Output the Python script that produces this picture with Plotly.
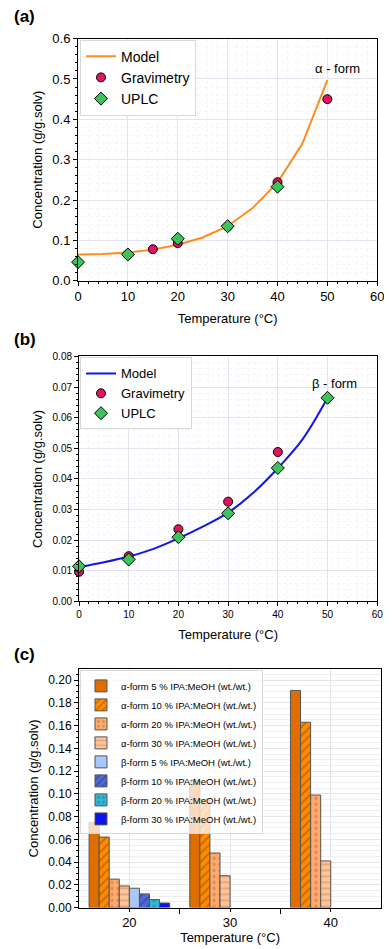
import plotly.graph_objects as go

# panel (a) alpha form
temp_model = [0, 5, 10, 15, 20, 25, 30, 35, 40, 45, 50]
alpha_model = [0.065, 0.066, 0.070, 0.077, 0.089, 0.107, 0.135, 0.180, 0.243, 0.340, 0.497]
alpha_grav_t = [10, 15, 20, 30, 40, 50]
alpha_grav = [0.066, 0.078, 0.093, 0.134, 0.244, 0.450]
alpha_uplc_t = [0, 10, 20, 30, 40]
alpha_uplc = [0.046, 0.065, 0.104, 0.135, 0.233]

# panel (b) beta form
beta_model = [0.0112, 0.0128, 0.0147, 0.0172, 0.0206, 0.0245, 0.0290, 0.0354, 0.0435, 0.0530, 0.0665]
beta_grav_t = [0, 10, 20, 30, 40]
beta_grav = [0.0097, 0.0148, 0.0236, 0.0326, 0.0488]
beta_uplc_t = [0, 10, 20, 30, 40, 50]
beta_uplc = [0.0115, 0.0137, 0.0210, 0.0288, 0.0436, 0.0665]

# panel (c) bars
bar_temps = [20, 30, 40]
bar_names = [
    "α-form 5 % IPA:MeOH (wt./wt.)",
    "α-form 10 % IPA:MeOH (wt./wt.)",
    "α-form 20 % IPA:MeOH (wt./wt.)",
    "α-form 30 % IPA:MeOH (wt./wt.)",
    "β-form 5 % IPA:MeOH (wt./wt.)",
    "β-form 10 % IPA:MeOH (wt./wt.)",
    "β-form 20 % IPA:MeOH (wt./wt.)",
    "β-form 30 % IPA:MeOH (wt./wt.)",
]
bar_values = [
    [0.075, 0.112, 0.191],
    [0.062, 0.095, 0.163],
    [0.025, 0.048, 0.099],
    [0.019, 0.028, 0.041],
    [0.017, None, None],
    [0.012, None, None],
    [0.007, None, None],
    [0.004, None, None],
]
bar_colors = ["#DF6D00", "#FF8A00", "#FFAA6E", "#FFC49A", "#A8C8F6", "#5068D2", "#34B6D6", "#0A14EE"]
bar_patterns = ["", "/", ".", "-", "", "/", ".", ""]
pattern_fg = ["#000", "#7A3C00", "#B86A30", "#C07A50", "#000", "#1A2A80", "#1A6A80", "#000"]

FONT = "Arial, Liberation Sans, sans-serif"
# the page body keeps its default 8px margin, so the figure starts at (8, 8)
OFF = 8
W, H = 392 - OFF, 949 - OFF


def px_x(p):
    return (p - OFF) / W


def px_y(p):
    return 1 - (p - OFF) / H


fig = go.Figure()

# ---- panel a
fig.add_trace(go.Scatter(x=temp_model, y=alpha_model, mode="lines", name="Model",
                         line=dict(color="#FF8C1A", width=2), legend="legend"))
fig.add_trace(go.Scatter(x=alpha_grav_t, y=alpha_grav, mode="markers", name="Gravimetry",
                         marker=dict(symbol="circle", size=9, color="#E3135E",
                                     line=dict(color="black", width=1)),
                         cliponaxis=False, legend="legend"))
fig.add_trace(go.Scatter(x=alpha_uplc_t, y=alpha_uplc, mode="markers", name="UPLC",
                         marker=dict(symbol="diamond", size=10, color="#3CC35A",
                                     line=dict(color="black", width=1)),
                         cliponaxis=False, legend="legend"))

# ---- panel b
fig.add_trace(go.Scatter(x=temp_model, y=beta_model, mode="lines", name="Model",
                         line=dict(color="#1414E6", width=2, shape="spline"),
                         xaxis="x2", yaxis="y2", legend="legend2"))
fig.add_trace(go.Scatter(x=beta_grav_t, y=beta_grav, mode="markers", name="Gravimetry",
                         marker=dict(symbol="circle", size=9, color="#E3135E",
                                     line=dict(color="black", width=1)),
                         cliponaxis=False, xaxis="x2", yaxis="y2", legend="legend2"))
fig.add_trace(go.Scatter(x=beta_uplc_t, y=beta_uplc, mode="markers", name="UPLC",
                         marker=dict(symbol="diamond", size=10, color="#3CC35A",
                                     line=dict(color="black", width=1)),
                         cliponaxis=False, xaxis="x2", yaxis="y2", legend="legend2"))

# ---- panel c
for name, vals, col, pat, fg in zip(bar_names, bar_values, bar_colors, bar_patterns, pattern_fg):
    fig.add_trace(go.Bar(
        x=bar_temps, y=vals, name=name,
        marker=dict(color=col, line=dict(color="#555555", width=1),
                    pattern=dict(shape=pat, fgcolor=fg, size=6, solidity=0.25)),
        xaxis="x3", yaxis="y3", legend="legend3"))

grid = "#E4E4F0"
minor_grid = "#F3F3F8"
title_font = dict(family=FONT, size=13, color="black")


def xax(domain, rng, dtick, anchor, fsize):
    return dict(domain=domain, range=rng, dtick=dtick, anchor=anchor,
                showline=True, linecolor="black", linewidth=1, mirror=True,
                ticks="outside", ticklen=4, tickcolor="black",
                showgrid=True, gridcolor=grid, zeroline=False,
                minor=dict(ticks="outside", ticklen=2, tickcolor="black",
                           showgrid=True, gridcolor=minor_grid, griddash="dot"),
                tickfont=dict(family=FONT, size=fsize, color="black"),
                title=dict(text="Temperature (°C)", font=title_font, standoff=10))


def yax(domain, rng, dtick, anchor, fmt, fsize):
    return dict(domain=domain, range=rng, dtick=dtick, anchor=anchor, tickformat=fmt,
                showline=True, linecolor="black", linewidth=1, mirror=True,
                ticks="outside", ticklen=4, tickcolor="black",
                showgrid=True, gridcolor=grid, zeroline=False,
                minor=dict(ticks="outside", ticklen=2, tickcolor="black",
                           showgrid=True, gridcolor=minor_grid, griddash="dot"),
                tickfont=dict(family=FONT, size=fsize, color="black"),
                title=dict(text="Concentration (g/g.solv)", font=title_font, standoff=6))


dom_x_a = [px_x(76), px_x(384)]
dom_y_a = [px_y(278), px_y(32)]
dom_x_b = [px_x(77), px_x(384)]
dom_y_b = [px_y(604), px_y(355)]
dom_x_c = [px_x(77), px_x(388)]
dom_y_c = [px_y(915), px_y(673)]

xa = xax(dom_x_a, [0, 60], 10, "y", 13)
ya = yax(dom_y_a, [0, 0.6], 0.1, "x", ".1f", 13)
xb = xax(dom_x_b, [0, 60], 10, "y2", 10)
yb = yax(dom_y_b, [0, 0.08], 0.01, "x2", ".2f", 10)

xc = dict(domain=dom_x_c, range=[15, 45], anchor="y3",
          tickmode="array", tickvals=bar_temps,
          showline=True, linecolor="black", linewidth=1, mirror=True,
          ticks="outside", ticklen=3, tickcolor="black",
          showgrid=True, gridcolor=grid, zeroline=False,
          minor=dict(tickmode="array", tickvals=[25, 35], ticks="outside", ticklen=5,
                     tickcolor="black", showgrid=False),
          tickfont=dict(family=FONT, size=13, color="black"),
          title=dict(text="Temperature (°C)", font=dict(family=FONT, size=13, color="black"),
                     standoff=0))
yc = dict(domain=dom_y_c, range=[0, 0.2095], dtick=0.02, anchor="x3", tickformat=".2f",
          showline=True, linecolor="black", linewidth=1, mirror=True,
          ticks="outside", ticklen=4, tickcolor="black",
          showgrid=True, gridcolor="#E6E6E6", zeroline=False,
          minor=dict(ticks="outside", ticklen=2, tickcolor="black",
                     showgrid=True, gridcolor="#EEEEEE"),
          tickfont=dict(family=FONT, size=12, color="black"),
          title=dict(text="Concentration (g/g.solv)", font=title_font, standoff=6))

legend_common = dict(bordercolor="#D8D8D8", borderwidth=1,
                     xanchor="left", yanchor="top", tracegroupgap=0)

fig.update_layout(
    width=W, height=H,
    margin=dict(l=0, r=0, t=0, b=0),
    paper_bgcolor="white", plot_bgcolor="white",
    font=dict(family=FONT, color="black"),
    xaxis=xa, yaxis=ya, xaxis2=xb, yaxis2=yb, xaxis3=xc, yaxis3=yc,
    barmode="group", bargap=0.2, bargroupgap=0,
    legend=dict(x=px_x(78), y=px_y(33), font=dict(family=FONT, size=14),
                bgcolor="white", **legend_common),
    legend2=dict(x=px_x(78), y=px_y(356), font=dict(family=FONT, size=13),
                 bgcolor="white", **legend_common),
    legend3=dict(x=px_x(78), y=px_y(674), font=dict(family=FONT, size=9.5),
                 bgcolor="rgba(255,255,255,0.75)", itemwidth=30, **legend_common),
    annotations=[
        dict(text="<b>(a)</b>", x=0, y=px_y(10), xref="paper", yref="paper",
             xanchor="left", yanchor="middle", showarrow=False, font=dict(family=FONT, size=17)),
        dict(text="<b>(b)</b>", x=0, y=px_y(338), xref="paper", yref="paper",
             xanchor="left", yanchor="middle", showarrow=False, font=dict(family=FONT, size=17)),
        dict(text="<b>(c)</b>", x=0, y=px_y(658), xref="paper", yref="paper",
             xanchor="left", yanchor="middle", showarrow=False, font=dict(family=FONT, size=17)),
        dict(text="α - form", x=52, y=0.525, xref="x", yref="y", showarrow=False,
             font=dict(family=FONT, size=13)),
        dict(text="β - form", x=51.5, y=0.0712, xref="x2", yref="y2", showarrow=False,
             font=dict(family=FONT, size=13)),
    ],
)

fig.write_html("out.html")
